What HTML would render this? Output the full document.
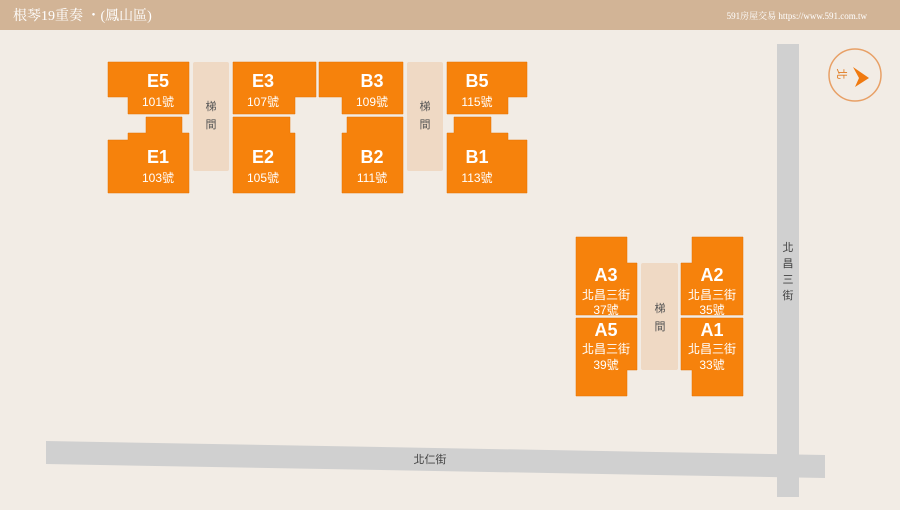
<!DOCTYPE html>
<html><head><meta charset="utf-8"><style>
html,body{margin:0;padding:0;width:900px;height:510px;overflow:hidden;background:#f2ece5;}
svg{display:block;font-family:"Liberation Sans","Noto Sans CJK TC",sans-serif;}
</style></head><body>
<svg width="900" height="510" viewBox="0 0 900 510" xmlns="http://www.w3.org/2000/svg">
<rect x="0" y="0" width="900" height="510" fill="#f2ece5"/>
<rect x="0" y="0" width="900" height="30" fill="#d2b496"/>
<text x="13" y="20" font-size="14" fill="#fff" font-family="Liberation Serif,'Noto Serif CJK SC',serif">根琴19重奏 ・(鳳山區)</text>
<text x="867" y="19" font-size="9" fill="#fff" text-anchor="end" font-family="Liberation Serif,'Noto Serif CJK SC',serif">591房屋交易 https://www.591.com.tw</text>

<rect x="777" y="44" width="22" height="453" fill="#d0d0d0"/>
<polygon points="46,441 825,455 825,478 46,464" fill="#d0d0d0"/>
<text x="430" y="463" font-size="11" fill="#444" text-anchor="middle">北仁街</text>
<g font-size="11" fill="#444" text-anchor="middle">
<text x="788" y="251">北</text><text x="788" y="267">昌</text><text x="788" y="283">三</text><text x="788" y="299">街</text>
</g>

<circle cx="855" cy="75" r="26" fill="none" stroke="#e8a066" stroke-width="1.5"/>
<polygon points="869,78 853,67 859,78 855,87" fill="#f07a10"/>
<text x="0" y="0" font-size="11" fill="#e07a20" text-anchor="middle" transform="translate(842,74) rotate(90)" dy="4">北</text>

<g fill="#f6820c" stroke="#e47000" stroke-width="0.5" stroke-linejoin="round">
<polygon points="108,62 189,62 189,114 128,114 128,97 108,97"/>
<polygon points="146,117 182,117 182,133 189,133 189,193 108,193 108,140 128,140 128,133 146,133"/>
<polygon points="233,62 316,62 316,97 295,97 295,114 233,114"/>
<polygon points="233,117 290,117 290,133 295,133 295,193 233,193"/>
<polygon points="319,62 403,62 403,114 342,114 342,97 319,97"/>
<polygon points="347,117 403,117 403,193 342,193 342,133 347,133"/>
<polygon points="447,62 527,62 527,97 508,97 508,114 447,114"/>
<polygon points="454,117 491,117 491,133 508,133 508,140 527,140 527,193 447,193 447,133 454,133"/>
<polygon points="576,237 627,237 627,263 637,263 637,315 576,315"/>
<polygon points="576,318 637,318 637,370 627,370 627,396 576,396"/>
<polygon points="692,237 743,237 743,315 681,315 681,263 692,263"/>
<polygon points="681,318 743,318 743,396 692,396 692,370 681,370"/>
</g>
<g fill="#efd9c4">
<rect x="193" y="62" width="36" height="109" rx="2"/>
<rect x="407" y="62" width="36" height="109" rx="2"/>
<rect x="641" y="263" width="37" height="107" rx="2"/>
</g>
<g font-size="11" fill="#555" text-anchor="middle">
<text x="211" y="110">梯</text><text x="211" y="128">間</text>
<text x="425" y="110">梯</text><text x="425" y="128">間</text>
<text x="660" y="312">梯</text><text x="660" y="330">間</text>
</g>
<g fill="#fff" text-anchor="middle">
<g font-size="18" font-weight="bold">
<text x="158" y="87">E5</text><text x="158" y="163">E1</text>
<text x="263" y="87">E3</text><text x="263" y="163">E2</text>
<text x="372" y="87">B3</text><text x="372" y="163">B2</text>
<text x="477" y="87">B5</text><text x="477" y="163">B1</text>
<text x="606" y="281">A3</text><text x="606" y="336">A5</text>
<text x="712" y="281">A2</text><text x="712" y="336">A1</text>
</g>
<g font-size="12">
<text x="158" y="106">101號</text><text x="158" y="182">103號</text>
<text x="263" y="106">107號</text><text x="263" y="182">105號</text>
<text x="372" y="106">109號</text><text x="372" y="182">111號</text>
<text x="477" y="106">115號</text><text x="477" y="182">113號</text>
<text x="606" y="299">北昌三街</text><text x="606" y="314">37號</text>
<text x="606" y="353">北昌三街</text><text x="606" y="369">39號</text>
<text x="712" y="299">北昌三街</text><text x="712" y="314">35號</text>
<text x="712" y="353">北昌三街</text><text x="712" y="369">33號</text>
</g>
</g>
</svg>
</body></html>
